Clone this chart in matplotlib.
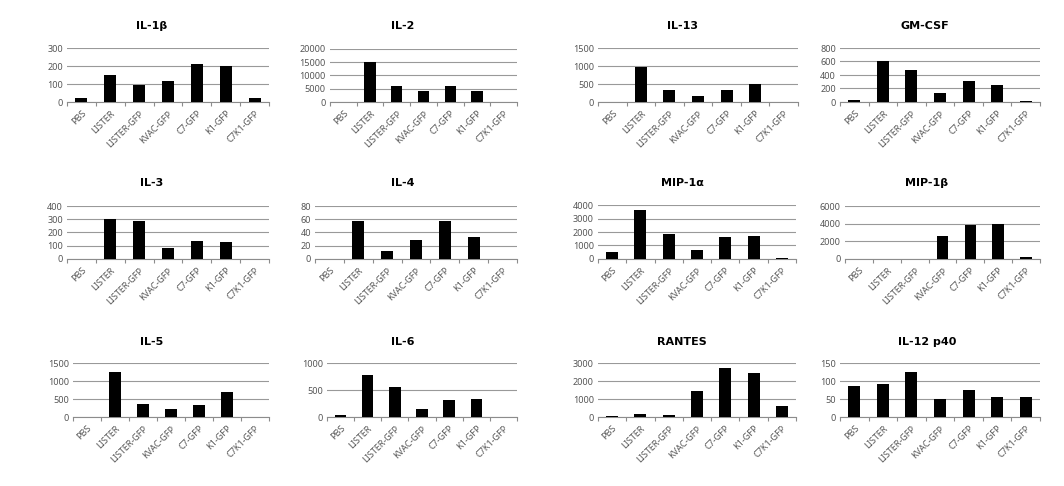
import numpy as np
import matplotlib
matplotlib.use("Agg")
import matplotlib.pyplot as plt

plt.rcParams['font.family'] = ['Noto Sans', 'DejaVu Sans']

groups = ["PBS", "LISTER", "LISTER-GFP", "KVAC-GFP", "C7-GFP", "K1-GFP", "C7K1-GFP"]

titles = ["IL-1\u03b2", "IL-2", "IL-13", "GM-CSF",
          "IL-3", "IL-4", "MIP-1\u03b1", "MIP-1\u03b2",
          "IL-5", "IL-6", "RANTES", "IL-12 p40"]

il1b = [20, 148, 95, 118, 212, 200, 25]
il2 = [0, 15000, 6200, 4300, 5900, 4300, 0]
il13 = [0, 980, 340, 170, 340, 490, 0]
gmcsf = [30, 600, 480, 140, 310, 255, 15]
il3 = [0, 305, 288, 85, 135, 125, 0]
il4 = [0, 58, 12, 28, 58, 33, 0]
mip1a = [500, 3600, 1850, 650, 1600, 1700, 80]
mip1b = [0, 0, 0, 2550, 3850, 4000, 200]
il5 = [0, 1250, 370, 210, 330, 700, 0]
il6 = [40, 780, 550, 150, 310, 330, 0]
rantes = [50, 150, 110, 1450, 2750, 2450, 600]
il12p40 = [85, 92, 125, 49, 76, 56, 56]

series = [il1b, il2, il13, gmcsf, il3, il4, mip1a, mip1b, il5, il6, rantes, il12p40]
ymax = [300, 20000, 1500, 800, 400, 80, 4000, 6000, 1500, 1000, 3000, 150]
ystep = [100, 5000, 500, 200, 100, 20, 1000, 2000, 500, 500, 1000, 50]

W, H = 1064, 486
fig = plt.figure(figsize=(W / 100, H / 100), dpi=100)

# axes boxes in pixels: left, right, top, bottom
boxes = [(67, 269, 48, 102), (330, 517, 49, 102), (598, 798, 48, 102), (840, 1040, 48, 102),
         (67, 269, 206, 259), (315, 517, 206, 259), (598, 796, 205, 259), (845, 1040, 206, 259),
         (73, 269, 363, 417), (327, 517, 363, 417), (598, 796, 363, 417), (840, 1040, 363, 417)]
title_pos = [(152, 26), (403, 26), (682, 26), (925, 26),
             (152, 183), (403, 183), (682, 183), (927, 183),
             (152, 342), (403, 342), (682, 342), (927, 342)]

grey = "#8c8c8c"
x = np.arange(len(groups))
for i in range(12):
    l, r, t, b = boxes[i]
    ax = fig.add_axes([l / W, 1 - b / H, (r - l) / W, (b - t) / H])
    ax.bar(x, series[i], width=0.42, color="black", zorder=3)
    ax.set_xlim(-0.5, len(groups) - 0.5)
    ax.set_ylim(0, ymax[i])
    ax.set_yticks(np.arange(0, ymax[i] + 1, ystep[i]))
    ax.yaxis.grid(True, color="#999999", linewidth=0.8, zorder=0)
    for s in ["top", "right", "left"]:
        ax.spines[s].set_visible(False)
    ax.spines["bottom"].set_color(grey)
    ax.spines["bottom"].set_linewidth(0.8)
    ax.set_xticks(x)
    ax.set_xticklabels(groups, rotation=45, ha="right", rotation_mode="anchor",
                       fontsize=6.5, color="#555555")
    ax.tick_params(axis="x", length=0, pad=5)
    ax.set_xticks(np.arange(-0.5, len(groups)), minor=True)
    ax.tick_params(axis="x", which="minor", length=3, color=grey, width=0.8)
    ax.tick_params(axis="y", length=0, labelsize=6.5, labelcolor="#555555", pad=3)
    tx, ty = title_pos[i]
    fig.text(tx / W, 1 - ty / H, titles[i], ha="center", va="center",
             fontsize=8, fontweight="bold", family=["DejaVu Sans"])

fig.savefig("out.png", dpi=100)
